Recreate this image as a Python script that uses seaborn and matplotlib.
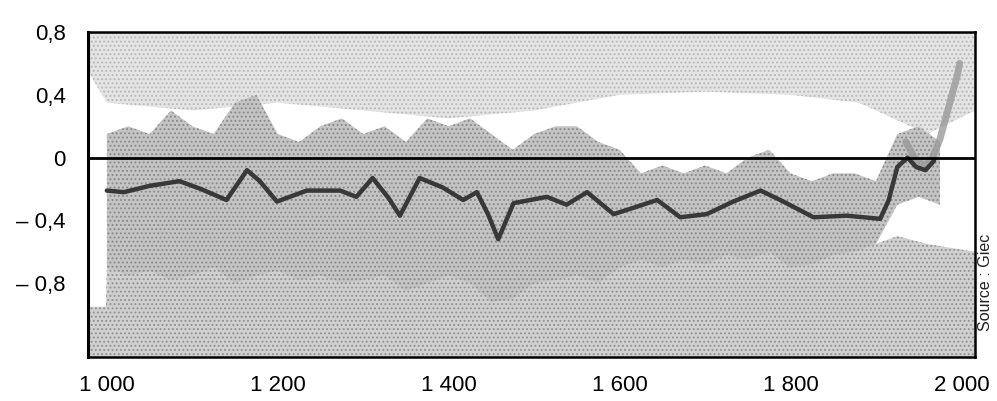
import numpy as np
import pandas as pd
import matplotlib
matplotlib.use("Agg")
import matplotlib.pyplot as plt
import seaborn as sns

# smoothed reconstruction (dark line)
smooth_years = [1000, 1020, 1050, 1085, 1110, 1140, 1164, 1179, 1199, 1234, 1273, 1292,
                1311, 1330, 1343, 1366, 1393, 1417, 1433, 1446, 1458, 1476, 1515, 1538,
                1562, 1593, 1616, 1644, 1671, 1702, 1733, 1765, 1788, 1827, 1866, 1905,
                1915, 1925, 1937, 1947, 1958, 1968]
smooth_vals = [-0.21, -0.22, -0.18, -0.15, -0.20, -0.27, -0.08, -0.15, -0.28, -0.21, -0.21, -0.25,
               -0.13, -0.26, -0.37, -0.13, -0.19, -0.27, -0.22, -0.36, -0.52, -0.29, -0.25, -0.30,
               -0.22, -0.36, -0.32, -0.27, -0.38, -0.36, -0.28, -0.21, -0.27, -0.38, -0.37, -0.39,
               -0.27, -0.06, 0.0, -0.06, -0.08, -0.02]

# spread of the yearly values (grey band)
band_years = [1000, 1025, 1050, 1075, 1100, 1125, 1150, 1175, 1200, 1225, 1250, 1275, 1300,
              1325, 1350, 1375, 1400, 1425, 1450, 1475, 1500, 1525, 1550, 1575, 1600, 1625,
              1650, 1675, 1700, 1725, 1750, 1775, 1800, 1825, 1850, 1875, 1900, 1925, 1950, 1975]
band_hi = [0.15, 0.2, 0.15, 0.3, 0.2, 0.15, 0.35, 0.4, 0.15, 0.1, 0.2, 0.25, 0.15,
           0.2, 0.1, 0.25, 0.2, 0.25, 0.15, 0.05, 0.15, 0.2, 0.2, 0.1, 0.05, -0.1,
           -0.05, -0.1, -0.05, -0.1, 0.0, 0.05, -0.1, -0.15, -0.1, -0.1, -0.15, 0.15, 0.2, 0.1]
band_lo = [-0.7, -0.75, -0.72, -0.78, -0.75, -0.7, -0.8, -0.75, -0.72, -0.78, -0.75, -0.8, -0.78,
           -0.75, -0.85, -0.8, -0.75, -0.8, -0.92, -0.9, -0.8, -0.78, -0.75, -0.8, -0.7, -0.65,
           -0.7, -0.65, -0.68, -0.62, -0.65, -0.6, -0.7, -0.68, -0.62, -0.6, -0.55, -0.3, -0.25, -0.3]

# lower uncertainty zone, down to the bottom of the frame
low_years = [978, 999, 1000, 1900, 1925, 1960, 2016]
low_hi = [-0.95, -0.95, -0.7, -0.55, -0.5, -0.55, -0.6]

# pale upper zone (upper limit of uncertainty)
top_years = [978, 1000, 1100, 1200, 1300, 1400, 1500, 1550, 1600, 1700, 1800, 1880, 1920, 1960, 2016]
top_lo = [0.55, 0.35, 0.3, 0.35, 0.3, 0.25, 0.3, 0.35, 0.4, 0.42, 0.4, 0.35, 0.25, 0.15, 0.3]

# instrumental record at the end
instr_years = [1935, 1945, 1955, 1965, 1970, 1975, 1980, 1985, 1990, 1995, 1998]
instr_vals = [0.1, 0.0, -0.05, -0.02, 0.05, 0.12, 0.22, 0.32, 0.42, 0.52, 0.6]

x_ticks = [1000, 1200, 1400, 1600, 1800, 2000]
x_labels = ["1 000", "1 200", "1 400", "1 600", "1 800", "2 000"]
y_ticks = [0.8, 0.4, 0, -0.4, -0.8]
y_labels = ["0,8", "0,4", "0", "\u2013 0,4", "\u2013 0,8"]

sns.set_style("white")
plt.rcParams["font.family"] = ["Liberation Sans", "DejaVu Sans"]
plt.rcParams["hatch.linewidth"] = 0.9

fig = plt.figure(figsize=(9.97, 4.01), dpi=100)
ax = fig.add_axes([0.0883, 0.1097, 0.8897, 0.8105])
ymin, ymax = -1.27, 0.8

# pale top zone
ax.fill_between(top_years, top_lo, ymax, color="#e4e4e4", lw=0, hatch="....", edgecolor="#b8b8b8")
# lower uncertainty zone
ax.fill_between(low_years, ymin, low_hi, color="#d0d0d0", lw=0, hatch="....", edgecolor="#929292")
# spread of yearly values
ax.fill_between(band_years, band_lo, band_hi, color="#c4c4c4", lw=0, hatch="....", edgecolor="#8a8a8a")

smooth = pd.DataFrame({"year": smooth_years, "anomaly": smooth_vals})
instr = pd.DataFrame({"year": instr_years, "anomaly": instr_vals})
sns.lineplot(data=instr, x="year", y="anomaly", ax=ax, color="#9a9a9a", lw=5, alpha=0.8)
sns.lineplot(data=smooth, x="year", y="anomaly", ax=ax, color="#383838", lw=3.2)

ax.axhline(0, color="black", lw=2)

ax.set_xlim(978, 2016)
ax.set_ylim(ymin, ymax)
ax.set_xticks(x_ticks)
ax.set_xticklabels(x_labels)
ax.set_yticks(y_ticks)
ax.set_yticklabels(y_labels)
ax.set_xlabel("")
ax.set_ylabel("")
ax.tick_params(direction="out", length=9, width=1.4, colors="black", labelsize=16)
ax.tick_params(axis="y", pad=7)
ax.tick_params(axis="x", pad=4)
for side in ["left", "bottom", "top", "right"]:
    ax.spines[side].set_color("black")
    ax.spines[side].set_linewidth(1.8)
ax.spines["left"].set_linewidth(2.2)

fig.text(0.988, 0.175, "Source : Giec", rotation=90, fontsize=11.5, ha="center", va="bottom",
         color="#222222")

fig.savefig("out.png", dpi=100)
